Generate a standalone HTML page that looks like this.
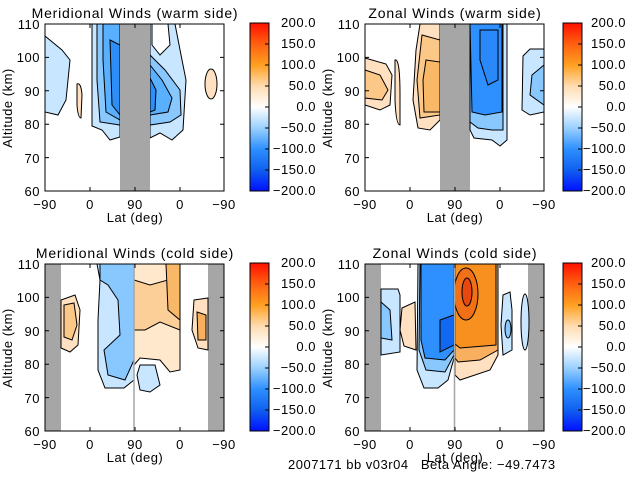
<!DOCTYPE html>
<html><head><meta charset="utf-8"><style>
html,body{margin:0;padding:0;background:#fff;}
svg{display:block;}
text{font-family:"Liberation Sans",sans-serif;font-size:13px;letter-spacing:0.5px;fill:#000;}
.t{font-size:14px;letter-spacing:0.8px;}
</style></head><body>
<svg width="640" height="480" xmlns="http://www.w3.org/2000/svg">
<defs>
<linearGradient id="cb" x1="0" y1="1" x2="0" y2="0">
<stop offset="0" stop-color="#0010ff"/>
<stop offset="0.125" stop-color="#1060f0"/>
<stop offset="0.25" stop-color="#2e90ff"/>
<stop offset="0.375" stop-color="#9ad0ff"/>
<stop offset="0.5" stop-color="#ffffff"/>
<stop offset="0.625" stop-color="#ffdcb0"/>
<stop offset="0.75" stop-color="#ffa020"/>
<stop offset="0.875" stop-color="#ff6010"/>
<stop offset="1" stop-color="#ff1000"/>
</linearGradient>
<g id="yax">
<text x="40" y="29" text-anchor="end">110</text>
<text x="40" y="62" text-anchor="end">100</text>
<text x="40" y="96" text-anchor="end">90</text>
<text x="40" y="129" text-anchor="end">80</text>
<text x="40" y="163" text-anchor="end">70</text>
<text x="40" y="196" text-anchor="end">60</text>
<text transform="translate(12,108) rotate(-90)" text-anchor="middle">Altitude (km)</text>
<text x="45" y="209" text-anchor="middle">−90</text>
<text x="90" y="209" text-anchor="middle">0</text>
<text x="135" y="209" text-anchor="middle">90</text>
<text x="180" y="209" text-anchor="middle">0</text>
<text x="224" y="209" text-anchor="middle">−90</text>
<text x="135" y="222" text-anchor="middle">Lat (deg)</text>
</g>
<g id="ticks" stroke="#000" stroke-width="1">
<path d="M45,57.4h4M45,90.8h4M45,124.2h4M45,157.6h4M224,57.4h-4M224,90.8h-4M224,124.2h-4M224,157.6h-4M90,191v-4M135,191v-4M180,191v-4M90,24v4M135,24v4M180,24v4"/>
</g>
<g id="cbt" stroke="#000"><path d="M0,44h-4M0,65h-4M0,86h-4M0,107h-4M0,128h-4M0,149h-4M0,170h-4"/></g>
</defs>

<!-- Panel 1 -->
<g>
<path d="M45,36 L62,50 L70,60 L66,100 L58,115 L45,112Z" fill="#c8e6ff" stroke="#000" stroke-width="1"/>
<path d="M77,84 Q81,82 82,95 L81,118 Q78,118 77,105Z" fill="#ffe0c0" stroke="#000"/>
<path d="M92,24 L120,24 L120,137 L110,140 L102,130 L92,126Z" fill="#c8e6ff" stroke="#000"/>
<path d="M97,24 L120,24 L120,125 L100,122 L97,80Z" fill="#88c8ff" stroke="#000"/>
<path d="M103,24 L120,24 L120,120 L106,112 L103,60Z" fill="#58b0ff" stroke="#000"/>
<path d="M110,40 L120,45 L120,115 L112,105Z" fill="#2e8ef8" stroke="#000"/>
<path d="M150,24 L175,24 L182,60 L186,80 L183,130 L172,140 L160,133 L150,138Z" fill="#c8e6ff" stroke="#000"/>
<path d="M150,55 L165,70 L180,90 L181,115 L170,122 L150,125Z" fill="#88c8ff" stroke="#000"/>
<path d="M150,65 L162,80 L172,98 L168,112 L150,115Z" fill="#58b0ff" stroke="#000"/>
<path d="M150,78 L156,90 L155,110 L150,112Z" fill="#2e8ef8" stroke="#000"/>
<path d="M152,24 L168,24 L170,45 L160,55 L152,45Z" fill="#fff" stroke="#000"/>
<ellipse cx="211" cy="84" rx="6" ry="15" fill="#ffe0c0" stroke="#000"/>
<rect x="120" y="24" width="30" height="167" fill="#a6a6a6"/>
<rect x="45" y="24" width="179" height="167" fill="none" stroke="#000"/>
<use href="#ticks"/>
<rect x="250" y="23" width="19" height="168" fill="url(#cb)" stroke="#000"/>
<use href="#cbt" transform="translate(269,0)"/>
<text class="t" x="135" y="18" text-anchor="middle">Meridional Winds (warm side)</text>
<use href="#yax"/>
</g>

<!-- Panel 2 -->
<g transform="translate(320,0)">
<path d="M45,58 L66,64 L72,75 L70,105 L60,110 L45,105Z" fill="#ffe0c0" stroke="#000"/>
<path d="M45,70 L60,75 L68,90 L62,100 L45,98Z" fill="#fcc888" stroke="#000"/>
<path d="M75,60 Q80,58 80,95 L80,125 Q76,125 75,100Z" fill="#ffe0c0" stroke="#000"/>
<path d="M100,24 L120,24 L120,120 L110,130 L98,128 L93,100 L96,50Z" fill="#ffe0c0" stroke="#000"/>
<path d="M102,35 L120,40 L120,115 L100,118 L97,80Z" fill="#fcc888" stroke="#000"/>
<path d="M106,60 L120,62 L120,112 L104,112 L103,80Z" fill="#f8b868" stroke="#000"/>
<rect x="120" y="24" width="30" height="167" fill="#a6a6a6"/>
<path d="M150,24 L187,24 L187,140 L180,146 L172,140 L154,138 L150,130Z" fill="#c8e6ff" stroke="#000"/>
<path d="M150,24 L183,24 L183,130 L172,130 L158,128 L150,122Z" fill="#88c8ff" stroke="#000"/>
<path d="M150,24 L182,24 L182,112 L165,115 L152,112Z" fill="#2e90ff" stroke="#000"/>
<path d="M160,30 L178,30 L178,80 L168,85 L160,60Z" fill="#2a88f8" stroke="#000"/>
<path d="M224,49 L210,49 L203,56 L202,110 L210,115 L224,112Z" fill="#c8e6ff" stroke="#000"/>
<path d="M224,65 L212,75 L210,95 L224,105Z" fill="#88c8ff" stroke="#000"/>
<rect x="45" y="24" width="179" height="167" fill="none" stroke="#000"/>
<use href="#ticks"/>
<rect x="243" y="23" width="19" height="168" fill="url(#cb)" stroke="#000"/>
<use href="#cbt" transform="translate(262,0)"/>
<text class="t" x="135" y="18" text-anchor="middle">Zonal Winds (warm side)</text>
<use href="#yax"/>
</g>

<!-- Panel 3 -->
<g transform="translate(0,240)">
<rect x="45" y="24" width="16" height="167" fill="#a6a6a6"/>
<rect x="208" y="24" width="16" height="167" fill="#a6a6a6"/>
<path d="M61,60 L75,55 L80,70 L78,105 L70,112 L61,108Z" fill="#ffe0c0" stroke="#000"/>
<path d="M64,65 L74,63 L77,85 L72,100 L64,97Z" fill="#fcc888" stroke="#000"/>
<path d="M97,24 L134,24 L134,140 L124,148 L105,148 L98,130 L98,80 L100,40Z" fill="#c8e6ff" stroke="#000"/>
<path d="M100,24 L134,24 L134,120 L125,140 L108,135 L104,110 L120,95 L118,60 L108,45 L100,40Z" fill="#88c8ff" stroke="#000"/>
<path d="M134,24 L180,24 L180,130 L170,132 L160,120 L140,118 L134,125Z" fill="#ffe8cc" stroke="#000"/>
<path d="M134,40 L150,45 L168,40 L172,24 L180,24 L180,90 L160,82 L145,90 L134,90Z" fill="#fccf98" stroke="#000"/>
<path d="M166,24 L180,24 L180,80 L168,70Z" fill="#f8b868" stroke="#000"/>
<path d="M140,125 L155,125 L160,145 L150,152 L140,150 L137,135Z" fill="#c8e6ff" stroke="#000"/>
<path d="M194,60 L208,58 L208,110 L198,108 L192,90Z" fill="#ffe0c0" stroke="#000"/>
<path d="M197,72 L206,75 L206,100 L198,100Z" fill="#f8b060" stroke="#000"/>
<line x1="134" y1="24" x2="134" y2="191" stroke="#a6a6a6" stroke-width="1.5"/>
<rect x="45" y="24" width="179" height="167" fill="none" stroke="#000"/>
<use href="#ticks"/>
<rect x="250" y="23" width="19" height="168" fill="url(#cb)" stroke="#000"/>
<use href="#cbt" transform="translate(269,0)"/>
<text class="t" x="135" y="18" text-anchor="middle">Meridional Winds (cold side)</text>
<use href="#yax"/>
</g>

<!-- Panel 4 -->
<g transform="translate(320,240)">
<rect x="45" y="24" width="16" height="167" fill="#a6a6a6"/>
<rect x="208" y="24" width="16" height="167" fill="#a6a6a6"/>
<path d="M61,49 L78,49 L80,55 L80,112 L61,115Z" fill="#c8e6ff" stroke="#000"/>
<path d="M61,62 L70,70 L72,100 L61,98Z" fill="#88c8ff" stroke="#000"/>
<path d="M82,68 L95,62 L96,110 L84,106 L80,90Z" fill="#ffe0c0" stroke="#000"/>
<path d="M98,24 L134,24 L134,118 L128,140 L118,148 L104,148 L97,130Z" fill="#c8e6ff" stroke="#000"/>
<path d="M100,24 L134,24 L134,115 L125,132 L106,130 L99,110Z" fill="#88c8ff" stroke="#000"/>
<path d="M101,24 L134,24 L134,110 L125,120 L105,118 L101,100Z" fill="#2e90ff" stroke="#000"/>
<path d="M120,80 L134,75 L134,105 L120,112Z" fill="#1268f0" stroke="#000"/>
<path d="M135,24 L178,24 L178,115 L170,130 L140,140 L135,135Z" fill="#ffe0c0" stroke="#000"/>
<path d="M135,24 L178,24 L178,110 L160,120 L138,122 L135,118Z" fill="#f8b060" stroke="#000"/>
<path d="M135,24 L176,24 L176,105 L140,108 L135,104Z" fill="#f89020" stroke="#000"/>
<ellipse cx="146" cy="54" rx="12" ry="26" fill="#f07018" stroke="#000"/>
<ellipse cx="147" cy="52" rx="5" ry="14" fill="#e84810" stroke="#000"/>
<line x1="134.5" y1="24" x2="134.5" y2="191" stroke="#a6a6a6" stroke-width="1.5"/>
<path d="M183,55 L190,52 L192,70 L192,110 L183,115 L181,85Z" fill="#c8e6ff" stroke="#000"/>
<ellipse cx="188" cy="89" rx="3" ry="9" fill="#88c8ff" stroke="#000"/>
<ellipse cx="205" cy="82" rx="4" ry="28" fill="#c8e6ff" stroke="#000"/>
<rect x="45" y="24" width="179" height="167" fill="none" stroke="#000"/>
<use href="#ticks"/>
<rect x="243" y="23" width="19" height="168" fill="url(#cb)" stroke="#000"/>
<use href="#cbt" transform="translate(262,0)"/>
<text class="t" x="135" y="18" text-anchor="middle">Zonal Winds (cold side)</text>
<use href="#yax"/>
</g>

<!-- colorbar labels -->
<g text-anchor="end">
<text x="316" y="27">200.0</text><text x="316" y="48">150.0</text><text x="316" y="69">100.0</text><text x="316" y="90">50.0</text><text x="316" y="111">0.0</text><text x="316" y="132">−50.0</text><text x="316" y="153">−100.0</text><text x="316" y="174">−150.0</text><text x="316" y="195">−200.0</text>
<text x="626" y="27">200.0</text><text x="626" y="48">150.0</text><text x="626" y="69">100.0</text><text x="626" y="90">50.0</text><text x="626" y="111">0.0</text><text x="626" y="132">−50.0</text><text x="626" y="153">−100.0</text><text x="626" y="174">−150.0</text><text x="626" y="195">−200.0</text>
<text x="316" y="267">200.0</text><text x="316" y="288">150.0</text><text x="316" y="309">100.0</text><text x="316" y="330">50.0</text><text x="316" y="351">0.0</text><text x="316" y="372">−50.0</text><text x="316" y="393">−100.0</text><text x="316" y="414">−150.0</text><text x="316" y="435">−200.0</text>
<text x="626" y="267">200.0</text><text x="626" y="288">150.0</text><text x="626" y="309">100.0</text><text x="626" y="330">50.0</text><text x="626" y="351">0.0</text><text x="626" y="372">−50.0</text><text x="626" y="393">−100.0</text><text x="626" y="414">−150.0</text><text x="626" y="435">−200.0</text>
</g>
<text x="288" y="469" style="white-space:pre" xml:space="preserve">2007171 bb v03r04   Beta Angle: −49.7473</text>
</svg>
</body></html>
